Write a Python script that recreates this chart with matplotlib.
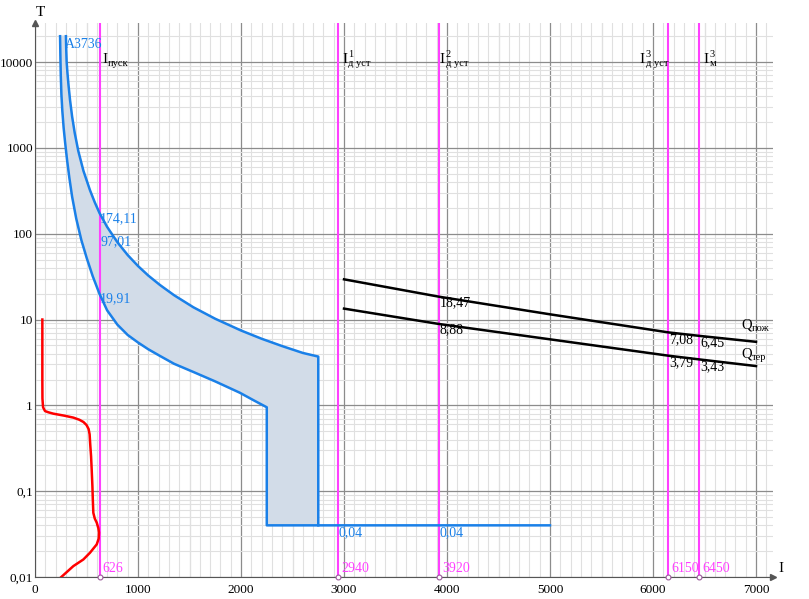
import matplotlib
matplotlib.use('Agg')
from matplotlib import pyplot as plt
from matplotlib.ticker import FixedLocator, NullFormatter
import numpy as np

# Время-токовые характеристики: автомат A3736, двигатель, кабель

# верхняя и нижняя границы полосы A3736 (I, t)
upper_I = [300, 303, 307, 315, 325, 340, 360, 385, 420, 470, 534, 580, 626, 700, 800, 900,
           1000, 1100, 1214, 1350, 1537, 1750, 2000, 2200, 2400, 2600, 2750]
upper_t = [20000, 14000, 10000, 7400, 5400, 3600, 2320, 1500, 920, 540, 320, 232, 174.11, 120,
           79.4, 56.3, 42.0, 32.5, 25.2, 19.2, 13.9, 10.2, 7.45, 5.97, 4.90, 4.08, 3.7]
lower_I = [243, 246, 250, 256, 265, 278, 292, 310, 333, 360, 400, 450, 502, 560, 626, 700, 800,
           900, 1000, 1100, 1214, 1350, 1537, 1750, 1990, 2120, 2250]
lower_t = [20000, 12000, 7000, 4200, 2700, 1700, 1160, 740, 450, 270, 150, 84, 52, 32, 19.91,
           12.8, 8.7, 6.6, 5.4, 4.5, 3.76, 3.05, 2.45, 1.9, 1.4, 1.15, 0.95]
band_bottom = 0.04
band_line_end = 5000

# пусковая характеристика двигателя
motor_I = [71, 71, 72, 78, 97, 130, 178, 280, 372, 430, 470, 500, 520, 530, 536, 544, 550, 557,
           561, 566, 580, 599, 615, 621, 618, 599, 534, 469, 372, 255]
motor_t = [10, 2, 1.2, 0.95, 0.858, 0.83, 0.80, 0.76, 0.72, 0.68, 0.64, 0.59, 0.53, 0.46, 0.35,
           0.256, 0.18, 0.115, 0.08, 0.056, 0.048, 0.043, 0.037, 0.033, 0.028, 0.024, 0.0192,
           0.016, 0.0134, 0.01]

# термическая стойкость / пожаробезопасность кабеля
q_I = [3000, 3920, 5000, 6150, 6450, 7000]
q_pozh = [29.4, 18.47, 11.5, 7.08, 6.45, 5.5]
q_ter = [13.4, 8.88, 5.88, 3.79, 3.43, 2.87]

# вертикальные токи
cur_vals = [626, 2940, 3920, 6150, 6450]
cur_labels = ['626', '2940', '3920', '6150', '6450']

y_ticks = [0.01, 0.1, 1, 10, 100, 1000, 10000]
y_labels = ['0,01', '0,1', '1', '10', '100', '1000', '10000']
x_ticks = [0, 1000, 2000, 3000, 4000, 5000, 6000, 7000]

blue = '#1a80e8'
mag = '#ff40ff'
fill = '#d2dce8'
fnt = 'Liberation Serif'

plt.rcParams['font.family'] = [fnt, 'DejaVu Serif']
plt.rcParams['font.size'] = 10

fig = plt.figure(figsize=(8.09, 5.99), dpi=100)
ax = fig.add_axes([0.0433, 0.0367, 0.9122, 0.9249])
ax.set_yscale('log')
ax.set_xlim(0, 7165)
ax.set_ylim(0.01, 28500)

# сетка
ax.xaxis.set_minor_locator(FixedLocator(np.arange(0, 7200, 100)))
ax.set_xticks(x_ticks)
ax.yaxis.set_minor_locator(FixedLocator([m * 10.0 ** e for e in range(-2, 5) for m in range(2, 10)]))
ax.yaxis.set_minor_formatter(NullFormatter())
ax.set_yticks(y_ticks)
ax.set_yticklabels(y_labels)
ax.grid(which='minor', color='#e0e0e0', lw=0.8)
ax.grid(which='major', color='#8c8c8c', lw=0.9)
for xv in range(500, 7200, 1000):
    ax.axvline(xv, color='#c8c8c8', lw=0.8, zorder=0.5)
ax.set_axisbelow(True)
ax.tick_params(which='both', length=0, labelsize=9.5)
ax.tick_params(axis='y', pad=1.5)
ax.tick_params(axis='x', pad=5)
ax.spines['top'].set_visible(False)
ax.spines['right'].set_visible(False)
ax.spines['left'].set_color('#555555')
ax.spines['bottom'].set_color('#555555')
ax.plot(1, 0, '>', color='#555555', ms=4, transform=ax.transAxes, clip_on=False)
ax.plot(0, 1, '^', color='#555555', ms=4, transform=ax.transAxes, clip_on=False)
fig.text(40 / 809, 1 - 13 / 599, 'T', ha='center', va='center', fontsize=11)
fig.text(778 / 809, 1 - 568 / 599, 'I', ha='left', va='center', fontsize=11)

# полоса A3736
poly_x = upper_I + [upper_I[-1], lower_I[-1]] + lower_I[::-1]
poly_y = upper_t + [band_bottom, band_bottom] + lower_t[::-1]
ax.fill(poly_x, poly_y, color=fill, zorder=2)
ax.plot(upper_I + [upper_I[-1]], upper_t + [band_bottom], color=blue, lw=1.8, zorder=3)
ax.plot(lower_I + [lower_I[-1], lower_I[-1], band_line_end],
        lower_t + [band_bottom, band_bottom, band_bottom], color=blue, lw=1.8, zorder=3)

# двигатель
ax.plot(motor_I, motor_t, color='red', lw=1.8, zorder=3)

# кабель
ax.plot(q_I, q_pozh, color='black', lw=1.8, zorder=3)
ax.plot(q_I, q_ter, color='black', lw=1.8, zorder=3)

# токи
for xv, lab in zip(cur_vals, cur_labels):
    ax.axvline(xv, color=mag, lw=1.5, zorder=2.5)
    ax.plot(xv, 0.01, 'o', ms=3.5, mfc='white', mec='#9a5a9a', mew=0.8, clip_on=False, zorder=4)
    ax.text(xv + 30, 0.0105, lab, color=mag, fontsize=10, ha='left', va='bottom')


def cur_name(x, y, sup, sub):
    ax.annotate('I', (x, y), ha='left', va='center', fontsize=11)
    if sup:
        ax.annotate(sup, (x, y), xytext=(4.5, 3.5), textcoords='offset points',
                    ha='left', va='center', fontsize=7.5)
    ax.annotate(sub, (x, y), xytext=(4.5, -3), textcoords='offset points',
                ha='left', va='center', fontsize=7.5)


cur_name(650, 10700, '', 'пуск')
cur_name(2980, 10700, '1', 'д уст')
cur_name(3925, 10700, '2', 'д уст')
cur_name(5870, 10700, '3', 'д уст')
cur_name(6490, 10700, '3', 'м')

ax.text(291, 16100, 'A3736', color=blue, ha='left', va='center', fontsize=10)
ax.text(630, 150, '174,11', color=blue, ha='left', va='center', fontsize=10)
ax.text(640, 80, '97,01', color=blue, ha='left', va='center', fontsize=10)
ax.text(630, 17.5, '19,91', color=blue, ha='left', va='center', fontsize=10)
ax.text(2950, 0.033, '0,04', color=blue, ha='left', va='center', fontsize=10)
ax.text(3925, 0.033, '0,04', color=blue, ha='left', va='center', fontsize=10)

ax.text(3925, 15.9, '18,47', ha='left', va='center', fontsize=10)
ax.text(3925, 7.7, '8,88', ha='left', va='center', fontsize=10)
ax.text(6155, 5.9, '7,08', ha='left', va='center', fontsize=10)
ax.text(6460, 5.4, '6,45', ha='left', va='center', fontsize=10)
ax.text(6155, 3.1, '3,79', ha='left', va='center', fontsize=10)
ax.text(6460, 2.84, '3,43', ha='left', va='center', fontsize=10)


def q_name(x, y, sub):
    ax.annotate('Q', (x, y), ha='left', va='center', fontsize=10.5)
    ax.annotate(sub, (x, y), xytext=(7.5, -2.5), textcoords='offset points',
                ha='left', va='center', fontsize=7.5)


q_name(6860, 8.55, 'пож')
q_name(6860, 3.93, 'тер')

fig.savefig('out.png', dpi=100)
